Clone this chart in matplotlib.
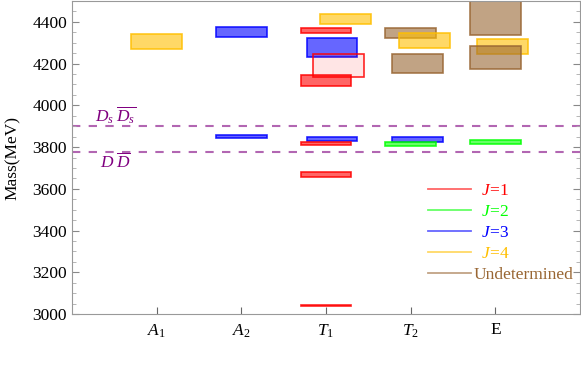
import matplotlib
matplotlib.use("Agg")
import matplotlib.pyplot as plt
from matplotlib.lines import Line2D

plt.rcParams['font.family'] = ['Liberation Serif', 'DejaVu Serif']
plt.rcParams['mathtext.fontset'] = 'custom'
plt.rcParams['mathtext.rm'] = 'Liberation Serif'
plt.rcParams['mathtext.it'] = 'Liberation Serif:italic'
plt.rcParams['mathtext.bf'] = 'Liberation Serif:bold'

# irreps along the x axis
irreps = [r'$A_1$', r'$A_2$', r'$T_1$', r'$T_2$', 'E']

# mass boxes: irrep index, J (0 = undetermined), lower and upper mass (MeV)
box_irrep = [0, 1, 1, 2, 2, 2, 2, 2, 2, 2, 2, 2, 3, 3, 3, 3, 3, 4, 4, 4, 4]
box_j = [4, 3, 3, 4, 1, 3, 1, 1, 3, 1, 1, 1, 0, 4, 0, 3, 2, 0, 4, 0, 2]
box_low = [4272, 4328, 3845, 4392, 4345, 4231, 4134, 4091, 3828, 3808, 3658, 3038,
           4323, 4277, 4153, 3822, 3805, 4336, 4245, 4172, 3814]
box_high = [4341, 4377, 3860, 4440, 4370, 4323, 4245, 4143, 3849, 3825, 3682, 3044,
            4370, 4347, 4245, 3850, 3822, 4560, 4317, 4282, 3835]
# small horizontal shift of each box so overlapping ones stay visible
box_shift = [0, 0, 0, 0.23, 0, 0.07, 0.15, 0, 0.07, 0, 0, 0,
             0, 0.16, 0.08, 0.08, 0, 0, 0.08, 0, 0]
# boxes drawn hollow (light fill)
faint_boxes = [6]

# two-meson thresholds
threshold_mass = [3900, 3776]
threshold_label = [r'$D_s\;\overline{D_s}$', r'$D\;\overline{D}$']

j_colors = {1: '#ff0000', 2: '#00ff00', 3: '#0000ff', 4: '#ffbf00', 0: '#996633'}
j_labels = {1: r'  $J$=1', 2: r'  $J$=2', 3: r'  $J$=3', 4: r'  $J$=4', 0: 'Undetermined'}
legend_order = [1, 2, 3, 4, 0]

fig = plt.figure(figsize=(5.81, 3.71), dpi=100)
ax = fig.add_axes([72 / 581, 1 - 314 / 371, 508 / 581, 313 / 371])

for i in range(len(box_low)):
    c = j_colors[box_j[i]]
    alpha = 0.1 if i in faint_boxes else 0.6
    x = box_irrep[i] + 1 + box_shift[i]
    ax.bar(x, box_high[i] - box_low[i], bottom=box_low[i], width=0.6,
           color=matplotlib.colors.to_rgba(c, alpha),
           edgecolor=matplotlib.colors.to_rgba(c, 0.85), linewidth=1.2, zorder=2)

for m in threshold_mass:
    ax.axhline(m, color='#b266b2', lw=1.5, ls=(0, (4, 4)), zorder=1)
ax.text(0.27, threshold_mass[0] + 2, threshold_label[0], color='#800080',
        fontsize=12.5, ha='left', va='bottom')
ax.text(0.33, threshold_mass[1] - 2, threshold_label[1], color='#800080',
        fontsize=12.5, ha='left', va='top')

ax.set_xlim(0, 6)
ax.set_ylim(3000, 4500)
ax.set_xticks(range(1, len(irreps) + 1))
ax.set_xticklabels(irreps)
ax.set_yticks(range(3000, 4401, 200))
ax.set_yticks(range(3000, 4501, 50), minor=True)
ax.tick_params(axis='y', which='both', direction='in', left=True, right=True,
               color='#888888', labelsize=12.5)
ax.tick_params(axis='y', which='major', length=5)
ax.tick_params(axis='y', which='minor', length=3, color='#aaaaaa')
ax.tick_params(axis='x', which='both', direction='in', length=5, color='#666666',
               labelsize=12.5, top=False, pad=6)
for s in ax.spines.values():
    s.set_color('#999999')
ax.set_ylabel('Mass(MeV)', fontsize=12.5, labelpad=8)

handles = [Line2D([], [], color=j_colors[j], alpha=0.6, lw=1.3) for j in legend_order]
ax.legend(handles, [j_labels[j] for j in legend_order], loc='upper left',
          bbox_to_anchor=(0.67, 0.469), frameon=False, fontsize=12.5,
          handlelength=2.5, handletextpad=0.1, labelspacing=0.28,
          labelcolor=[j_colors[j] for j in legend_order])

fig.savefig('out.png', dpi=100)
